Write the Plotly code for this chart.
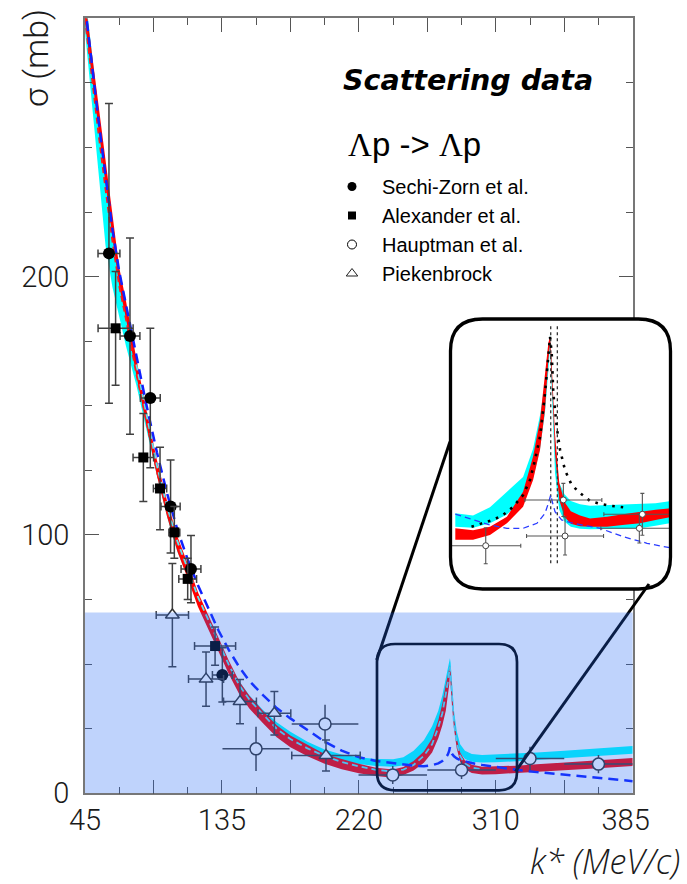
import plotly.graph_objects as go

W, H = 687, 884

# ---------------- data (p_lab in MeV/c on the hidden scale, sigma in mb) ----------------
tick_p = [100, 200, 300, 400, 500, 600, 700, 800, 900]
tick_k = ['45', '', '135', '', '220', '', '310', '', '385\u00a0\u00a0']
tick_s = [0, 100, 200, 300]
tick_s_text = ['0', '100', '200', '']

p_main = [100, 110, 120, 130, 140, 150, 160, 175, 190, 205, 220, 235, 250, 265, 280, 295, 310, 325, 340, 360,
          380, 400, 425, 450, 475, 500, 525, 550, 565, 580, 595, 607, 616, 622, 627, 630, 632, 633, 634, 636,
          639, 643, 648, 655, 665, 680, 700, 730, 760, 800, 850, 900]
red_lo = [298.5, 277.7, 256.9, 236.1, 215.3, 196.5, 183.6, 161.8, 142.0, 123.0, 107.0, 93.6, 83.1, 72.2, 63.4, 54.9,
          46.2, 38.5, 32.8, 27.1, 21.7, 17.8, 14.3, 11.4, 9.3, 7.8, 6.7, 6.0, 7.1, 8.8, 11.8, 15.8, 21.3, 26.3,
          32.0, 37.0, 42.0, 46.0, 43.0, 34.0, 25.0, 17.3, 12.2, 9.3, 7.9, 7.3, 7.4, 7.7, 8.2, 8.9, 9.7, 10.6]
red_hi = [307.5, 286.3, 265.1, 243.9, 222.7, 203.5, 190.4, 168.2, 148.0, 129.0, 113.0, 99.4, 88.9, 77.8, 69.0, 60.3,
          51.4, 43.5, 37.8, 31.9, 26.3, 22.4, 18.7, 15.2, 13.3, 11.4, 9.9, 9.2, 10.2, 12.5, 16.2, 21.2, 28.2, 34.7,
          42.0, 46.5, 49.0, 49.5, 47.5, 38.5, 29.0, 21.2, 15.8, 12.7, 11.1, 10.3, 10.4, 10.7, 11.2, 12.0, 12.8, 13.7]
cyan_lo = [295.0, 267.0, 239.0, 212.0, 196.0, 184.0, 173.0, 158.0, 140.5, 123.0, 107.0, 93.5, 83.5, 73.0, 64.5, 56.0,
           47.5, 40.5, 35.0, 29.5, 25.0, 21.3, 17.5, 14.5, 12.5, 11.3, 10.6, 10.3, 10.8, 12.0, 14.5, 18.5, 24.0, 29.5,
           36.0, 41.0, 46.0, 49.0, 47.0, 37.5, 27.0, 20.0, 15.5, 13.3, 12.2, 11.9, 12.0, 12.4, 12.8, 13.5, 14.4, 15.3]
cyan_hi = [310.0, 286.7, 263.0, 239.5, 217.0, 199.0, 186.5, 164.5, 144.5, 126.0, 110.0, 96.5, 86.0, 75.5, 67.0, 58.8,
           50.5, 43.5, 38.0, 32.2, 27.5, 23.8, 20.0, 17.0, 15.0, 14.0, 13.3, 13.2, 14.0, 16.5, 20.5, 26.0, 32.0, 38.0,
           44.0, 48.0, 51.0, 52.3, 50.5, 42.0, 32.0, 24.0, 19.0, 16.5, 15.2, 14.8, 15.0, 15.4, 15.8, 16.5, 17.4, 18.3]
blue_main = [305.0, 282.0, 260.0, 239.0, 218.5, 202.0, 189.0, 169.0, 150.0, 132.0, 116.0, 102.0, 90.5, 80.5, 71.5,
             63.0, 55.5, 49.0, 43.5, 38.0, 33.0, 29.0, 24.5, 20.0, 16.5, 14.0, 12.5, 11.6, 11.1, 10.7, 10.5, 10.9,
             11.6, 12.5, 13.8, 15.0, 16.5, 17.8, 16.6, 15.3, 14.3, 13.5, 12.9, 12.3, 11.7, 11.0, 10.2, 9.1, 8.2, 7.2,
             5.9, 4.7]

p_rdash = [100, 110, 120, 130, 140, 150, 160, 175, 190, 205, 220, 235, 250]
s_rdash = [300.0, 277.0, 255.0, 234.0, 214.0, 196.5, 183.5, 162.5, 143.0, 124.8, 109.2, 96.0, 86.0]

p_cdash = [175, 190, 205, 220, 235, 250, 265, 280, 295, 310, 325, 340, 360, 380, 400, 425, 450, 475, 500, 525, 550,
           565, 580, 595, 607, 616, 622, 627, 630, 632, 633, 634, 636, 639, 643, 648, 655, 665, 680]
s_cdash = [166.0, 146.0, 127.0, 111.0, 97.5, 87.0, 76.0, 67.2, 58.6, 49.8, 42.0, 36.3, 30.5, 25.0, 21.0, 17.4, 14.4,
           12.1, 10.4, 9.1, 8.4, 9.2, 11.0, 14.5, 19.0, 25.5, 31.0, 38.0, 43.0, 47.0, 49.0, 45.5, 36.5, 27.0, 19.5,
           14.5, 11.5, 10.0, 9.3]

# measurements: Sechi-Zorn et al.
sz_p = [135, 165.7, 195.4, 225, 254.8, 300.6]
sz_s = [209, 177, 153, 111, 86.8, 45.8]
sz_ds = [58, 38, 27, 18, 13, 10.5]
sz_dp = [16, 14.5, 14.5, 14, 14.5, 14.5]
# Alexander et al.
al_p = [144.7, 185.2, 209.6, 230.5, 250, 290]
al_s = [180, 130, 118, 101, 83, 57]
al_ds = [22, 17, 16, 10, 8, 7.4]
al_dp = [25.6, 15, 9.7, 8, 13, 30]
# Hauptman et al.
ha_p = [349.8, 450.6, 549.5, 650, 750, 850]
ha_s = [17.2, 26.8, 7.1, 9.0, 13.5, 11.3]
ha_ds = [8.6, 7.5, 3.5, 3.5, 4.5, 3.5]
ha_dp = [49, 48.7, 50, 50, 50, 50]
# Piekenbrock
pk_p = [227.6, 276.8, 326.4, 376.6, 452]
pk_s = [69, 44.2, 35.5, 31, 14.6]
pk_ds = [20, 10.5, 8.6, 8.4, 6]
pk_dp = [23.6, 25.6, 24, 24, 50]

# inset (zoom of the cusp region)
p_ins = [510, 533, 555, 577, 598, 611, 620, 626.5, 630.8, 633, 634.5, 636.5, 639.5, 645, 652, 660, 672, 685, 707,
         730, 750, 770, 792]
ins_red_lo = [8.3, 8.3, 9.3, 11.7, 15.1, 20.6, 26.8, 35.0, 45.2, 48.5, 45.0, 37.0, 26.0, 16.5, 13.0, 11.6, 11.1,
              11.0, 11.0, 11.4, 11.7, 12.4, 13.05]
ins_red_hi = [10.7, 10.3, 11.0, 13.05, 18.2, 25.4, 32.9, 41.8, 48.7, 50.2, 47.0, 40.0, 30.0, 20.0, 16.0, 14.2, 13.3,
              12.7, 13.05, 13.6, 14.1, 14.5, 14.8]
ins_cyan_lo = [11.0, 10.8, 11.7, 13.5, 16.5, 21.0, 27.0, 34.5, 43.0, 48.0, 43.0, 33.0, 22.0, 14.5, 12.0, 11.0, 10.6,
               10.5, 10.5, 10.6, 10.7, 11.2, 11.8]
ins_cyan_hi = [13.75, 13.3, 15.0, 18.1, 21.2, 27.0, 33.9, 40.5, 46.5, 50.5, 46.0, 37.0, 27.0, 20.0, 17.6, 16.3, 15.6,
               15.3, 15.4, 15.5, 15.6, 15.8, 16.3]
p_dot = [531, 546, 559, 572, 585, 598, 607, 613.5, 620, 626.5, 630.8, 633, 635.2, 637.3, 641.7, 646, 652.5, 661, 672,
         685, 698, 711, 728]
s_dot = [11.0, 11.7, 12.4, 13.4, 15.1, 17.5, 20.6, 24.7, 29.5, 38.4, 45.2, 50.0, 46.6, 38.4, 31.5, 26.8, 22.6, 19.6,
         17.9, 16.3, 15.7, 15.3, 15.0]
p_blue_ins = [510, 533, 555, 577, 598, 616, 626.5, 630.8, 633.9, 636.5, 639.5, 648, 663, 698, 728, 759, 792]
s_blue_ins = [13.6, 12.4, 11.35, 10.67, 10.67, 11.7, 13.75, 15.8, 17.5, 15.8, 14.1, 12.4, 11.7, 10.67, 8.95, 7.6, 6.57]
p_thresholds = [633.9, 642.5]
s_threshold_span = [3.5, 52.4]
ins_p = [549.5, 650.3, 652.5, 752.9, 749]
ins_s = [7.1, 16.5, 9.1, 13.55, 10.67]
ins_dp = [45.5, 50, 50, 50, 50]
ins_ds = [3.7, 3.4, 3.9, 4.3, 3.0]

# ---------------- helpers for layout placement ----------------
def fx(px):
    return px / W


def fy(py):
    return 1 - py / H


def rrect(x0, y0, x1, y1, r):
    return (f"M {fx(x0 + r)},{fy(y0)} L {fx(x1 - r)},{fy(y0)} Q {fx(x1)},{fy(y0)} {fx(x1)},{fy(y0 + r)} "
            f"L {fx(x1)},{fy(y1 - r)} Q {fx(x1)},{fy(y1)} {fx(x1 - r)},{fy(y1)} "
            f"L {fx(x0 + r)},{fy(y1)} Q {fx(x0)},{fy(y1)} {fx(x0)},{fy(y1 - r)} "
            f"L {fx(x0)},{fy(y0 + r)} Q {fx(x0)},{fy(y0)} {fx(x0 + r)},{fy(y0)} Z")


def band(p, lo, hi, color, xa='x', ya='y'):
    return go.Scatter(x=list(p) + list(p)[::-1], y=list(hi) + list(lo)[::-1], fill='toself', fillcolor=color,
                      line=dict(width=0), mode='lines', hoverinfo='skip', showlegend=False, xaxis=xa, yaxis=ya)


EB = dict(type='data', color='#404040', thickness=1.5, width=4)

fig = go.Figure()

# main bands and curves
fig.add_trace(band(p_main, cyan_lo, cyan_hi, '#00ffff'))
fig.add_trace(band(p_main, red_lo, red_hi, '#ff0000'))
fig.add_trace(go.Scatter(x=p_rdash, y=s_rdash, mode='lines', line=dict(color='#ff1a1a', width=2, dash='6px,4px'),
                         showlegend=False, hoverinfo='skip'))
fig.add_trace(go.Scatter(x=p_cdash, y=s_cdash, mode='lines', line=dict(color='#5ee6f2', width=1.8, dash='6px,4px'),
                         showlegend=False, hoverinfo='skip'))
fig.add_trace(go.Scatter(x=p_main, y=blue_main, mode='lines', line=dict(color='#1020ff', width=2.5, dash='10px,6px'),
                         showlegend=False, hoverinfo='skip'))

# measurements
fig.add_trace(go.Scatter(x=sz_p, y=sz_s, mode='markers', showlegend=False,
                         marker=dict(symbol='circle', size=12, color='black'),
                         error_x=dict(EB, array=sz_dp), error_y=dict(EB, array=sz_ds)))
fig.add_trace(go.Scatter(x=al_p, y=al_s, mode='markers', showlegend=False,
                         marker=dict(symbol='square', size=10, color='black'),
                         error_x=dict(EB, array=al_dp), error_y=dict(EB, array=al_ds)))
fig.add_trace(go.Scatter(x=ha_p, y=ha_s, mode='markers', showlegend=False,
                         marker=dict(symbol='circle', size=12, color='white', line=dict(color='#333', width=1.5)),
                         error_x=dict(EB, array=ha_dp, width=0), error_y=dict(EB, array=ha_ds, width=0)))
fig.add_trace(go.Scatter(x=pk_p, y=pk_s, mode='markers', showlegend=False,
                         marker=dict(symbol='triangle-up', size=12, color='white', line=dict(color='#333', width=1.5)),
                         error_x=dict(EB, array=pk_dp), error_y=dict(EB, array=pk_ds)))

# legend entries
fig.add_trace(go.Scatter(x=[None], y=[None], mode='markers', name='Sechi-Zorn et al.',
                         marker=dict(symbol='circle', size=9, color='black')))
fig.add_trace(go.Scatter(x=[None], y=[None], mode='markers', name='Alexander et al.',
                         marker=dict(symbol='square', size=8, color='black')))
fig.add_trace(go.Scatter(x=[None], y=[None], mode='markers', name='Hauptman et al.',
                         marker=dict(symbol='circle-open', size=9, color='black', line=dict(width=1))))
fig.add_trace(go.Scatter(x=[None], y=[None], mode='markers', name='Piekenbrock',
                         marker=dict(symbol='triangle-up-open', size=10, color='#222', line=dict(width=1))))

# inset
fig.add_trace(band(p_ins, ins_cyan_lo, ins_cyan_hi, '#00ffff', 'x2', 'y2'))
fig.add_trace(band(p_ins, ins_red_lo, ins_red_hi, '#ff0000', 'x2', 'y2'))
for pt in p_thresholds:
    fig.add_trace(go.Scatter(x=[pt, pt], y=s_threshold_span, mode='lines', xaxis='x2', yaxis='y2', showlegend=False,
                             line=dict(color='#333', width=1.3, dash='dot'), hoverinfo='skip'))
fig.add_trace(go.Scatter(x=p_dot, y=s_dot, mode='lines', xaxis='x2', yaxis='y2', showlegend=False,
                         line=dict(color='black', width=2.6, dash='2.6px,6px'), hoverinfo='skip'))
fig.add_trace(go.Scatter(x=p_blue_ins, y=s_blue_ins, mode='lines', xaxis='x2', yaxis='y2', showlegend=False,
                         line=dict(color='#2a3cff', width=1.3, dash='6px,4px'), hoverinfo='skip'))
EBI = dict(type='data', color='#555', thickness=1.1, width=2)
fig.add_trace(go.Scatter(x=ins_p, y=ins_s, mode='markers', xaxis='x2', yaxis='y2', showlegend=False,
                         marker=dict(symbol='circle', size=6, color='white', line=dict(color='#444', width=1)),
                         error_x=dict(EBI, array=ins_dp), error_y=dict(EBI, array=ins_ds)))

AX = dict(showline=True, mirror='ticks', linecolor='#777', linewidth=1.5, ticks='inside', tickcolor='#555',
          tickwidth=1.3, ticklen=14, showgrid=False, zeroline=False, automargin=False,
          tickfont=dict(family='Roboto', size=29, color='#1a1a1a', weight=300))

fig.update_layout(
    width=W, height=H, margin=dict(l=0, r=0, t=0, b=0, autoexpand=False),
    paper_bgcolor='white', plot_bgcolor='white',
    xaxis=dict(AX, domain=[fx(85), fx(632.7)], range=[100, 900], tickmode='array', tickvals=tick_p,
               ticktext=tick_k, ticklabelstandoff=0,
               minor=dict(dtick=50, tick0=100, ticks='inside', ticklen=7, tickcolor='#555', tickwidth=1.3)),
    yaxis=dict(AX, domain=[fy(793.3), fy(18.3)], range=[0, 300], tickmode='array', tickvals=tick_s,
               ticktext=tick_s_text, ticklabelstandoff=8,
               minor=dict(dtick=25, tick0=0, ticks='inside', ticklen=7, tickcolor='#555', tickwidth=1.3)),
    xaxis2=dict(domain=[fx(449), fx(671)], range=[501.8, 790.1], visible=False, anchor='y2', automargin=False),
    yaxis2=dict(domain=[fy(589), fy(318)], range=[-1.79, 53.86], visible=False, anchor='x2', automargin=False),
    showlegend=True,
    legend=dict(x=fx(322), y=fy(167), xanchor='left', yanchor='top', bgcolor='rgba(0,0,0,0)',
                font=dict(family='Liberation Sans', size=20, color='black'), itemwidth=50, tracegroupgap=0),
    shapes=[
        dict(type='line', xref='paper', yref='paper', x0=fx(450), y0=fy(441.7), x1=fx(376.7), y1=fy(660),
             line=dict(color='black', width=3), layer='above'),
        dict(type='line', xref='paper', yref='paper', x0=fx(515.5), y0=fy(771.5), x1=fx(649), y1=fy(584),
             line=dict(color='black', width=3), layer='above'),
        dict(type='path', xref='paper', yref='paper', path=rrect(377, 644, 517, 790.3, 18),
             line=dict(color='black', width=2.7), layer='above'),
        dict(type='rect', xref='x domain', yref='y', x0=0, x1=1, y0=0, y1=70,
             fillcolor='rgba(35,105,245,0.29)', line=dict(width=0), layer='above'),
        dict(type='path', xref='paper', yref='paper', path=rrect(450.5, 319, 670.5, 589, 32),
             line=dict(color='black', width=3.3), layer='above'),
    ],
    annotations=[
        dict(xref='paper', yref='paper', x=fx(468), y=fy(80), xanchor='center', yanchor='middle',
             text='<b><i>Scattering data</i></b>',
             showarrow=False, font=dict(family='DejaVu Sans', size=28.5, color='black')),
        dict(xref='paper', yref='paper', x=fx(346), y=fy(145), xanchor='left', yanchor='middle',
             text='<span style="font-family:Liberation Serif">Λ</span>p -&gt; '
                  '<span style="font-family:Liberation Serif">Λ</span>p',
             showarrow=False, font=dict(family='Liberation Sans', size=33, color='black')),
        dict(xref='paper', yref='paper', x=fx(36), y=fy(58), xanchor='center', yanchor='middle',
             text='σ (mb)', textangle=-90, showarrow=False,
             font=dict(family='Roboto', size=34, color='#1a1a1a', weight=300)),
        dict(xref='paper', yref='paper', x=fx(682), y=fy(861), xanchor='right', yanchor='middle',
             text='<i>k* (MeV/c)</i>',
             showarrow=False, font=dict(family='Open Sans', size=34, color='#1a1a1a', weight=300)),
    ],
)

fig.write_html('out.html', config={'displayModeBar': False},
               post_script="document.body.style.margin='0px';")
